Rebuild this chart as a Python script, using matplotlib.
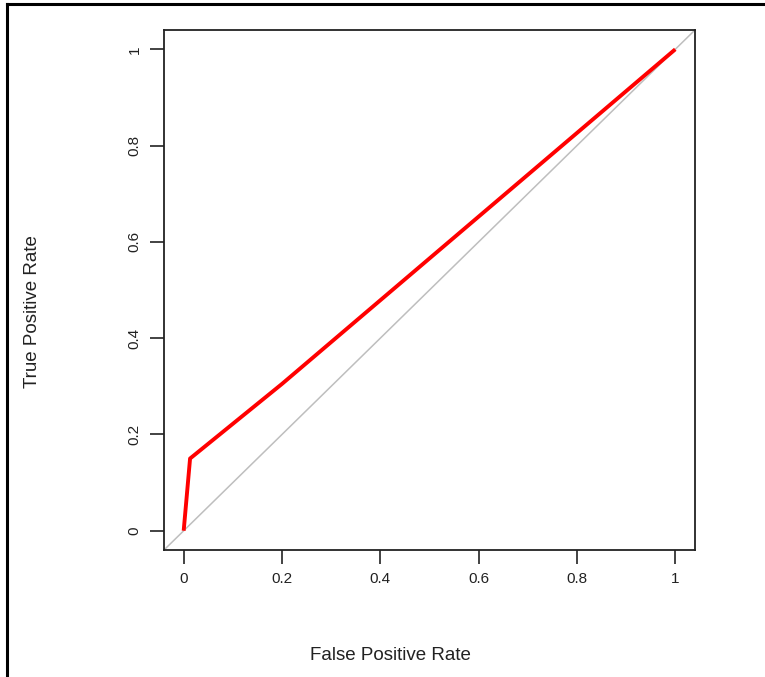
import matplotlib
matplotlib.use("Agg")
import matplotlib.pyplot as plt
from matplotlib.lines import Line2D

plt.rcParams['font.family'] = ['Liberation Sans', 'DejaVu Sans']

# ROC curve points
fpr = [0.0, 0.013, 0.2, 1.0]
tpr = [0.0, 0.15, 0.305, 1.0]

x_ticks = [0, 0.2, 0.4, 0.6, 0.8, 1]
x_tick_labels = ["0", "0.2", "0.4", "0.6", "0.8", "1"]
y_ticks = [0, 0.2, 0.4, 0.6, 0.8, 1]
y_tick_labels = ["0", "0.2", "0.4", "0.6", "0.8", "1"]

fig = plt.figure(figsize=(7.65, 6.77), dpi=100)
ax = fig.add_axes([0.2144, 0.1876, 0.694, 0.768])

ax.set_xlim(-0.04, 1.04)
ax.set_ylim(-0.04, 1.04)

# chance diagonal across the whole plotting region
ax.plot([-0.04, 1.04], [-0.04, 1.04], color="#bebebe", lw=1.1, zorder=1)
ax.plot(fpr, tpr, color="#ff0000", lw=2.8, solid_capstyle="butt", zorder=2)

ax.set_xticks(x_ticks)
ax.set_xticklabels(x_tick_labels)
ax.set_yticks(y_ticks)
ax.set_yticklabels(y_tick_labels, rotation=90, va="center")

ax.tick_params(direction="out", length=10, width=1.2, labelsize=11,
               colors="#222222", pad=6)
ax.tick_params(axis="y", pad=6)
for sp in ax.spines.values():
    sp.set_linewidth(1.3)
    sp.set_color("#222222")

fig.text(0.511, 0.032, "False Positive Rate", ha="center", va="center",
         fontsize=13.5, color="#222222")
fig.text(0.042, 0.54, "True Positive Rate", ha="center", va="center",
         rotation=90, fontsize=13.5, color="#222222")

# outer frame (top and left edges)
fig.add_artist(Line2D([0.0092, 1.0], [0.9941, 0.9941], transform=fig.transFigure,
                      color="black", lw=2.2))
fig.add_artist(Line2D([0.0092, 0.0092], [0.0, 0.9941], transform=fig.transFigure,
                      color="black", lw=2.2))

fig.savefig("out.png", dpi=100, facecolor="white")
